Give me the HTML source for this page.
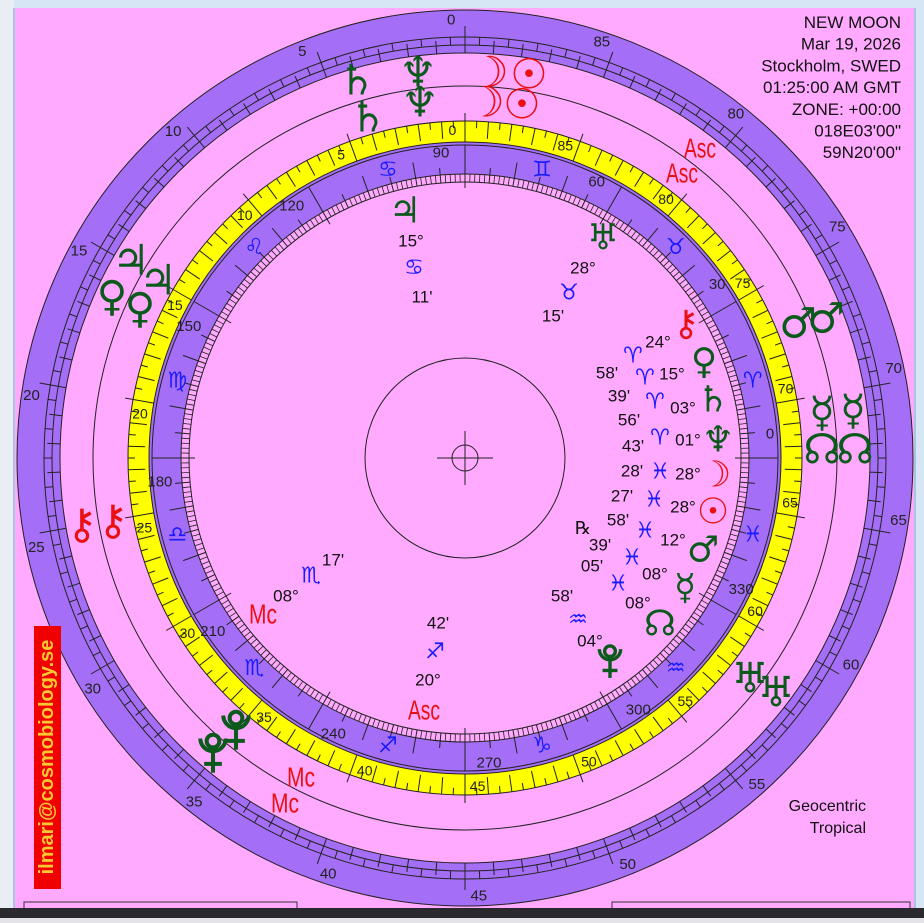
<!DOCTYPE html>
<html><head><meta charset="utf-8"><style>
html,body{margin:0;padding:0;width:924px;height:923px;overflow:hidden;background:#ffaaff;}
svg{position:absolute;left:0;top:0;}
text{font-family:"Liberation Sans","DejaVu Sans",sans-serif;}
.g{font-family:"DejaVu Sans",sans-serif;}
</style></head><body>
<svg id="s" width="924" height="923" viewBox="0 0 924 923" xmlns="http://www.w3.org/2000/svg"></svg>
<script>
var cx=465,cy=458,o=[];
function P(r,a){a=a*Math.PI/180;return [cx-r*Math.sin(a),cy-r*Math.cos(a)];}
function L(r1,r2,a,w){var p=P(r1,a),q=P(r2,a);o.push('<line x1="'+p[0].toFixed(1)+'" y1="'+p[1].toFixed(1)+'" x2="'+q[0].toFixed(1)+'" y2="'+q[1].toFixed(1)+'" stroke="#222" stroke-width="'+(w||1)+'"/>');}
function C(r,f,w){o.push('<circle cx="'+cx+'" cy="'+cy+'" r="'+r+'" fill="'+(f||'none')+'" stroke="#222" stroke-width="'+(w||1)+'"/>');}
function T(x,y,s,sz,col,cls,extra){o.push('<text x="'+x+'" y="'+y+'" font-size="'+sz+'" fill="'+col+'" text-anchor="middle" dominant-baseline="central"'+(cls?' class="'+cls+'"':'')+(extra||'')+'>'+s+'</text>');}
function TA(r,a,s,sz,col,cls){var p=P(r,a);T(p[0].toFixed(1),p[1].toFixed(1),s,sz,col,cls);}
function PL(x,y,s,col){var k=s/30;o.push('<g transform="translate('+x+' '+y+') scale('+k+')" fill="none" stroke="'+col+'" stroke-width="3.2"><path d="M-10,-13 A10,10 0 0 0 10,-13"/><circle cx="0" cy="-11" r="5"/><line x1="0" y1="-3" x2="0" y2="14"/><line x1="-7" y1="7" x2="7" y2="7"/></g>');}
o.push('<rect x="0" y="0" width="924" height="923" fill="#ffaaff"/>');
C(448,'#a46ff6');C(405,'#ffaaff');C(421);C(413);
for(var u=0;u<90;u++){var a=u*4;
 if(u%5==0){L(405,432,a,1);TA(438,a+1.8,String(u),15,'#222');}
 else L(405,418,a,1);
 L(413,421,a+2,1);
}
C(372);
C(337,'#ffff00');C(316,'#a46ff6');C(313);
for(var u=0;u<90;u++){var a=u*4;
 if(u%5==0){L(316,345,a,1);TA(328,a+2.2,String(u),14,'#222');}
 else L(320,337,a,1);
 L(330,337,a+2,1);
}
C(284,'#ffaaff');C(276);
for(var d=0;d<360;d++){var a=d-90;
 if(d%30==0){L(270,313,a,1);}
 else if(d%10==0)L(276,300,a,1);
 else if(d%5==0)L(276,291,a,1);
 else L(276,284,a,0.8);
}
var labs=[0,30,60,90,120,150,180,210,240,270,300,330];
labs.forEach(function(d){TA(306,d-90+4.5,String(d),15,'#222');});
var z=['♈','♉','♊','♋','♌','♍','♎','♏','♐','♑','♒','♓'];
var zang=[-75,-45,-15,15,45,75,105,135,165,-165,-135,-105];
for(var i=0;i<12;i++)TA(298,zang[i],z[i]+'&#xFE0E;',22,'#1a1aff','g');
C(100);o.push('<circle cx="'+cx+'" cy="'+cy+'" r="13" fill="none" stroke="#222"/>');
o.push('<line x1="'+(cx-28)+'" y1="'+cy+'" x2="'+(cx+28)+'" y2="'+cy+'" stroke="#222"/><line x1="'+cx+'" y1="'+(cy-27)+'" x2="'+cx+'" y2="'+(cy+27)+'" stroke="#222"/>');
var G='#0b5a1b',R='#e81010',B='#1a1aff',K='#111';
var pl=[['♄',357,80,G],['♆',418,72,G],['☽',490,72,R],['☉',529,74,R],['♃',131,260,G],['♀',112,296,G],['⚷',82,524,R],['♇',213,755,G],['♂',826,318,G],['☿',853,410,G],['☊',855,449,G],['♅',776,692,G],
['♄',368,117,G],['♆',420,102,G],['☽',486,102,R],['☉',522,104,R],['♃',158,280,G],['♀',140,308,G],['⚷',113,520,R],['♇',236,732,G],['♂',798,323,G],['☿',822,412,G],['☊',822,449,G],['♅',750,678,G]];
pl.forEach(function(p){if(p[0]=='♇')PL(p[1],p[2],38,p[3]);else T(p[1],p[2],p[0]+'&#xFE0E;',42,p[3],'g');});
function AS(x,y,s){o.push('<text x="'+x+'" y="'+y+'" font-size="28" fill="'+R+'" text-anchor="middle" dominant-baseline="central" lengthAdjust="spacingAndGlyphs" textLength="'+(s=='Asc'?32:28)+'">'+s+'</text>');}
AS(700,148,'Asc');AS(682,173,'Asc');AS(285,803,'Mc');AS(301,777,'Mc');AS(263,614,'Mc');AS(424,710,'Asc');
var it=[['♃',405,211,G,36,1],['15°',411,241,K,17],['♋',414,268,B,22,1],["11'",422,297,K,17],
['♅',603,238,G,36,1],['28°',583,268,K,17],['♉',569,293,B,22,1],["15'",553,316,K,17],
['⚷',686,324,R,36,1],['24°',658,342,K,17],['♈',633,356,B,22,1],
["58'",607,373,K,17],['♈',645,378,B,22,1],['15°',672,374,K,17],['♀',704,362,G,36,1],
["39'",619,396,K,17],['♈',655,402,B,22,1],['03°',683,408,K,17],['♄',713,400,G,36,1],
["56'",629,420,K,17],['♈',660,438,B,22,1],['01°',688,440,K,17],['♆',718,440,G,36,1],
["43'",633,446,K,17],["28'",632,471,K,17],['♓',660,472,B,22,1],['28°',688,474,K,17],['☽',715,475,R,36,1],
["27'",622,496,K,17],['♓',654,500,B,22,1],['28°',683,507,K,17],['☉',713,512,R,36,1],
["58'",618,520,K,17],['♓',645,531,B,22,1],['12°',673,540,K,17],['♂',703,550,G,36,1],
['℞',583,528,K,18],["39'",600,545,K,17],["05'",592,566,K,17],['♓',632,558,B,22,1],['08°',655,574,K,17],['☿',685,588,G,36,1],
['♓',618,584,B,22,1],['08°',638,603,K,17],['☊',660,624,G,36,1],
["58'",562,596,K,17],['♒',578,620,B,22,1],['04°',590,641,K,17],
["17'",333,560,K,17],['♏',311,576,B,22,1],['08°',286,596,K,17],
["42'",438,623,K,17],['♐',435,652,B,22,1],['20°',428,680,K,17]];
it.forEach(function(p){T(p[1],p[2],p[0]+(p[5]?'&#xFE0E;':''),p[4],p[3],p[5]?'g':'');});
PL(610,663,32,G);
var hd=['NEW MOON','Mar 19, 2026','Stockholm, SWED','01:25:00 AM GMT','ZONE: +00:00','018E03\'00"','59N20\'00"'];
hd.forEach(function(s,i){o.push('<text x="901" y="'+(28+i*21.7)+'" font-size="17" fill="#111" text-anchor="end">'+s+'</text>');});
o.push('<text x="866" y="811" font-size="16" fill="#111" text-anchor="end">Geocentric</text><text x="866" y="833" font-size="16" fill="#111" text-anchor="end">Tropical</text>');
o.push('<rect x="34" y="626" width="27" height="263" fill="#f00000"/>');
o.push('<text x="47" y="757" font-size="20" font-weight="bold" fill="#ffc830" text-anchor="middle" dominant-baseline="central" transform="rotate(-90 47 757)" style="font-family:\'Liberation Sans\',sans-serif">ilmari@cosmobiology.se</text>');
o.push('<rect x="0" y="0" width="924" height="8" fill="#d6e6f4"/><rect x="0" y="0" width="14" height="923" fill="#e8eef4"/><line x1="14" y1="8" x2="14" y2="908" stroke="#a9c4dd" stroke-width="2"/>');
o.push('<rect x="916" y="0" width="8" height="923" fill="#d6e6f4"/><line x1="915" y1="8" x2="915" y2="908" stroke="#a9c4dd" stroke-width="2"/>');
o.push('<rect x="24" y="902" width="273" height="8" fill="none" stroke="#333"/><rect x="612" y="902" width="298" height="8" fill="none" stroke="#333"/>');
o.push('<rect x="0" y="908" width="924" height="10" fill="#2a2a2e"/><rect x="0" y="918" width="924" height="5" fill="#e4e4e8"/>');
document.getElementById('s').innerHTML=o.join('');
</script>
</body></html>
